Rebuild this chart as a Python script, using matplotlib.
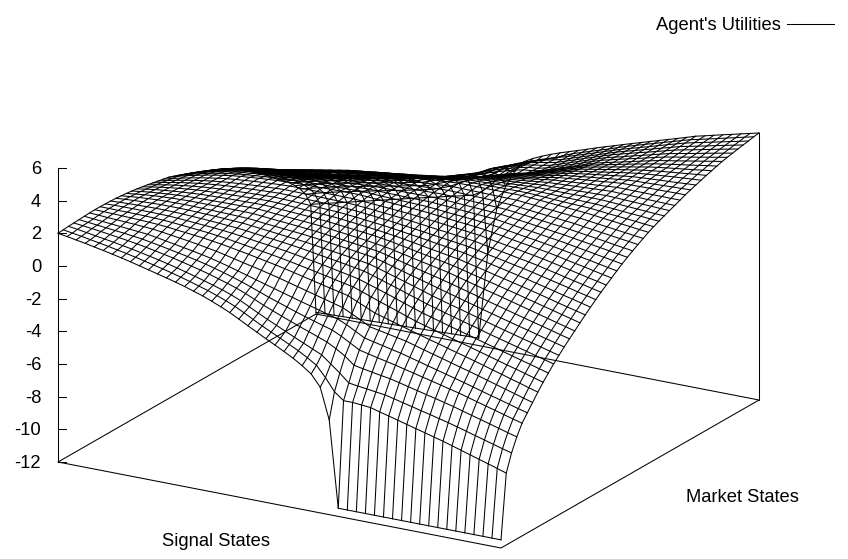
import numpy as np
import matplotlib
matplotlib.use('Agg')
import matplotlib.pyplot as plt

plt.rcParams['font.family'] = ['Liberation Sans', 'DejaVu Sans']

Z_TICKS = [-12, -10, -8, -6, -4, -2, 0, 2, 4, 6]
LEGEND_LABEL = "Agent's Utilities"
X_LABEL = 'Signal States'
Y_LABEL = 'Market States'

# utility * 100. one row per market state, one column per signal state
UTILITY_X100 = [
[200,191,181,171,160,149,137,125,112,98,84,70,56,41,25,7,-11,-33,-56,-81,-110,-140,-169,-198,-226,-255,-285,-320,-360,-430,-620,-1150,-1150,-1150,-1150,-1150,-1150,-1150,-1150,-1150,-1150,-1150,-1150,-1150,-1150,-1150,-1150,-1150,-1150,-1150],
[203,194,185,175,165,155,144,133,121,108,95,82,68,53,37,20,3,-17,-38,-62,-90,-120,-149,-176,-203,-230,-258,-290,-325,-390,-466,-510,-510,-515,-520,-536,-550,-565,-580,-595,-610,-625,-640,-657,-674,-691,-708,-725,-742,-760],
[206,198,189,180,171,162,152,142,131,119,107,94,80,65,50,34,17,0,-20,-44,-72,-100,-127,-153,-179,-205,-230,-255,-280,-325,-370,-420,-428,-435,-443,-450,-463,-477,-490,-504,-517,-531,-545,-560,-576,-592,-608,-624,-640,-655],
[208,202,195,188,180,172,164,155,145,134,123,111,98,84,70,55,38,21,2,-20,-45,-70,-93,-115,-137,-158,-178,-199,-220,-250,-285,-330,-341,-351,-361,-370,-383,-397,-410,-424,-437,-451,-465,-481,-497,-512,-528,-544,-560,-575],
[210,204,198,192,186,180,173,166,156,146,135,124,113,101,88,73,57,40,22,2,-19,-40,-59,-78,-97,-115,-132,-149,-165,-192,-223,-255,-268,-281,-293,-305,-319,-332,-346,-359,-373,-387,-400,-416,-432,-448,-463,-479,-495,-510],
[212,207,202,197,192,187,182,177,168,158,148,138,128,117,105,91,76,60,44,27,11,-5,-21,-37,-53,-68,-84,-100,-115,-140,-170,-200,-213,-225,-238,-250,-265,-280,-295,-310,-325,-340,-355,-371,-387,-403,-418,-434,-450,-465],
[214,211,207,204,201,198,194,190,183,175,167,159,150,140,130,118,105,92,80,67,54,40,25,10,-5,-20,-35,-50,-65,-92,-120,-150,-161,-172,-184,-195,-211,-227,-243,-258,-274,-290,-305,-321,-338,-354,-371,-387,-404,-420],
[215,214,212,210,208,206,203,200,195,189,183,177,171,163,155,145,135,125,114,103,92,80,67,54,41,28,15,3,-10,-35,-60,-85,-101,-118,-134,-150,-166,-182,-197,-213,-229,-244,-260,-276,-293,-309,-326,-342,-359,-375],
[215,215,214,214,213,212,210,208,204,199,194,189,184,177,170,161,152,143,134,125,115,105,94,83,71,60,48,36,25,5,-15,-35,-54,-73,-93,-112,-128,-144,-160,-175,-191,-206,-222,-238,-254,-270,-285,-301,-317,-333],
[214,216,217,217,217,217,216,215,212,208,204,200,196,191,185,178,170,162,155,147,139,130,120,110,100,89,78,67,55,37,19,1,-18,-38,-57,-76,-92,-108,-124,-140,-155,-171,-187,-202,-218,-233,-249,-264,-280,-295],
[213,216,218,220,221,222,222,221,219,216,213,210,206,202,198,192,185,178,172,165,158,150,141,132,123,114,105,95,85,68,50,32,14,-5,-23,-42,-58,-74,-90,-106,-121,-137,-153,-168,-183,-198,-213,-228,-243,-258],
[211,216,219,222,224,226,226,226,225,223,221,219,216,213,210,204,198,192,186,180,174,168,160,152,144,136,128,119,110,94,77,60,43,26,8,-10,-26,-42,-57,-73,-89,-104,-120,-135,-150,-165,-179,-194,-209,-224],
[208,214,219,223,226,228,229,230,229,228,227,225,224,222,220,215,209,204,199,194,189,183,176,169,161,154,146,138,130,115,99,83,67,52,36,20,4,-11,-27,-42,-58,-73,-88,-103,-118,-132,-147,-162,-176,-191],
[204,211,217,222,226,229,231,233,233,233,233,233,232,232,231,226,221,216,212,207,202,197,190,183,176,169,162,155,147,133,119,105,91,77,64,50,35,20,5,-11,-26,-41,-56,-71,-86,-101,-115,-130,-145,-160],
[200,208,215,220,225,229,232,235,236,237,238,239,239,240,240,236,231,227,223,219,215,210,203,196,190,183,176,168,160,149,137,125,113,102,90,78,63,48,33,18,4,-10,-25,-40,-55,-70,-85,-100,-115,-130],
[195,204,212,218,224,229,233,237,239,241,243,244,245,246,247,244,240,237,233,230,226,222,216,210,204,198,192,184,175,165,154,143,132,122,111,100,86,72,58,45,31,17,3,-12,-26,-41,-55,-70,-84,-99],
[189,199,208,216,223,229,234,238,241,244,246,248,250,252,253,251,248,245,242,239,236,233,228,222,216,210,203,196,188,179,170,160,150,141,131,122,109,96,83,69,56,43,30,16,2,-12,-27,-41,-55,-69],
[183,194,204,213,221,228,234,239,243,246,249,252,254,256,258,256,254,252,250,248,245,243,238,233,227,221,215,208,200,192,184,176,167,159,150,142,130,118,105,93,81,68,56,42,29,15,1,-12,-26,-40],
[176,189,200,210,219,227,234,240,245,249,252,255,258,261,263,262,260,259,257,256,254,252,248,243,238,232,226,219,212,205,198,190,183,175,168,160,149,137,126,115,103,92,80,67,54,41,28,14,1,-12],
[169,183,195,206,216,225,233,240,245,250,254,258,261,264,267,266,265,264,263,262,261,260,256,252,247,242,237,231,225,218,211,204,198,191,184,177,166,156,145,135,124,114,103,90,78,65,52,40,27,15],
[162,177,190,202,213,223,232,240,246,251,256,260,264,267,270,270,270,270,269,269,268,268,264,260,256,252,248,243,238,232,226,219,213,207,200,194,184,174,164,155,145,135,125,113,101,89,76,64,52,40],
[155,172,186,199,211,222,231,240,246,251,256,260,264,267,270,271,272,273,274,275,275,275,272,268,265,261,258,254,250,245,239,233,227,222,216,210,201,192,182,173,164,154,145,134,122,111,100,88,76,65],
[143,161,177,191,204,215,224,232,238,243,248,252,256,260,263,265,267,268,269,271,272,273,271,268,266,264,262,260,258,253,248,243,239,234,229,224,216,207,198,189,181,172,163,153,143,132,122,111,100,90],
[131,150,167,182,195,206,215,222,228,234,239,243,247,251,255,258,260,262,264,267,269,271,270,269,268,267,266,266,265,261,257,253,249,245,241,237,229,221,213,205,197,189,181,172,162,153,143,133,124,114],
[118,138,155,170,183,193,202,210,216,222,227,232,237,242,246,250,253,256,259,263,266,269,270,270,271,271,272,272,272,269,266,262,259,256,252,249,242,235,228,220,213,205,198,189,180,172,163,154,145,136],
[105,125,143,158,171,180,189,197,203,209,215,220,225,231,236,240,244,248,252,256,261,266,268,270,272,273,275,277,278,276,273,271,268,265,263,260,254,247,241,234,227,221,214,206,198,190,182,173,165,157],
[90,111,129,145,157,166,174,182,189,195,201,207,213,219,225,230,235,240,245,250,257,264,267,270,273,275,278,281,283,282,280,278,277,275,272,270,264,258,252,247,241,236,230,222,215,207,200,192,185,177],
[75,96,114,129,140,149,157,164,172,179,186,193,200,208,215,221,227,233,239,245,254,262,266,270,273,277,280,284,287,286,285,284,283,282,281,280,275,270,265,260,255,250,245,238,231,224,217,210,203,196],
[60,80,98,112,123,131,138,145,154,162,170,178,187,196,205,213,221,229,236,244,252,260,265,270,275,279,283,287,290,290,290,290,290,290,290,290,286,282,278,273,269,264,260,254,247,241,234,228,221,215],
[45,64,81,95,105,113,121,128,138,147,156,165,174,183,192,200,208,216,223,231,238,245,251,257,262,268,273,278,283,284,285,286,287,287,288,288,285,282,279,276,273,271,268,263,257,252,247,242,236,231],
[30,48,64,77,87,95,103,110,120,130,140,149,159,168,178,186,193,200,207,214,221,228,235,241,248,254,260,267,273,275,277,279,281,283,285,286,284,283,281,280,279,277,276,272,268,263,259,255,250,246],
[14,31,46,58,68,75,83,90,101,112,123,133,143,153,163,170,177,184,191,197,204,210,218,225,233,240,248,255,262,265,268,271,274,277,280,283,283,283,283,283,284,284,284,281,277,274,270,267,263,260],
[-4,12,26,37,45,52,59,65,77,89,100,111,121,132,142,149,156,163,170,177,184,190,199,207,215,224,232,240,248,253,257,262,266,271,275,280,281,283,284,286,288,289,291,289,286,284,281,279,276,274],
[-22,-8,5,15,22,28,34,40,52,63,74,84,95,105,115,122,129,136,144,151,158,165,175,184,194,204,214,223,233,239,245,252,258,264,271,277,280,283,286,289,292,295,298,296,295,293,291,290,288,287],
[-41,-29,-17,-8,-1,4,10,15,26,37,48,59,69,80,90,97,104,111,119,126,133,140,151,162,173,184,195,206,217,225,233,242,250,258,266,274,278,283,287,291,295,300,304,304,303,303,302,302,301,301],
[-60,-50,-40,-32,-26,-21,-15,-10,0,10,20,30,40,50,60,68,76,84,92,100,108,115,127,140,152,164,176,188,200,210,220,230,240,250,260,270,276,282,288,293,299,305,310,311,312,313,313,314,315,315],
[-85,-75,-65,-57,-50,-44,-39,-33,-23,-13,-3,8,18,29,40,48,56,64,72,80,88,95,108,121,134,147,160,172,185,196,208,219,231,242,254,265,272,279,286,292,299,305,312,315,317,319,321,323,325,327],
[-110,-100,-90,-82,-75,-69,-63,-57,-46,-35,-24,-13,-2,9,20,28,36,44,52,60,68,75,89,102,116,129,143,156,170,183,196,208,221,234,247,260,268,276,284,291,299,307,314,318,322,325,328,331,335,338],
[-135,-125,-115,-107,-100,-93,-86,-80,-69,-57,-46,-34,-23,-11,0,8,16,24,32,40,48,55,69,83,98,112,127,141,155,169,183,197,212,226,240,254,263,272,281,290,299,308,316,322,327,332,337,341,345,349],
[-162,-151,-141,-133,-125,-117,-110,-103,-92,-80,-69,-58,-47,-36,-25,-16,-7,2,10,19,27,35,50,65,80,95,110,125,140,155,170,186,201,217,232,248,258,268,278,288,298,307,317,324,331,337,343,349,355,360],
[-190,-178,-167,-158,-150,-141,-133,-125,-114,-103,-92,-81,-70,-59,-48,-38,-28,-18,-9,0,8,15,35,50,66,82,98,114,125,142,158,175,192,209,225,242,253,264,275,286,297,307,318,326,334,341,348,355,363,370],
[-220,-207,-195,-184,-174,-163,-153,-143,-132,-122,-112,-101,-91,-80,-70,-59,-49,-39,-29,-19,-9,0,18,36,54,70,86,100,112,130,148,166,183,201,218,236,248,260,272,284,296,307,319,328,337,346,354,363,372,380],
[-250,-235,-220,-207,-195,-183,-171,-160,-150,-140,-130,-120,-110,-100,-90,-78,-67,-55,-42,-28,-16,-2,22,40,58,74,90,102,108,119,138,156,175,193,212,230,243,256,269,282,295,308,320,330,340,350,360,370,380,390],
[-275,-260,-245,-232,-220,-208,-196,-185,-175,-165,-154,-144,-133,-123,-112,-98,-84,-68,-52,-36,-22,-8,20,38,56,72,87,99,104,117,135,154,172,191,210,228,242,256,269,283,296,310,323,334,344,355,365,376,386,397],
[-305,-290,-275,-261,-249,-237,-225,-213,-202,-192,-182,-171,-161,-150,-140,-122,-104,-86,-68,-50,-33,-14,15,33,52,68,84,95,103,115,134,152,171,189,208,226,240,254,269,283,297,312,326,337,348,359,371,382,393,404],
[-340,-325,-310,-296,-284,-272,-260,-248,-237,-226,-215,-204,-193,-181,-170,-150,-130,-108,-88,-70,-52,-30,5,25,45,63,80,92,102,114,133,151,170,188,207,225,240,255,270,284,299,314,329,341,352,364,376,388,399,411],
[-380,-365,-350,-336,-324,-312,-300,-288,-276,-265,-254,-242,-231,-219,-208,-188,-165,-140,-115,-95,-75,-50,-10,12,35,55,72,88,100,113,132,150,168,186,205,223,239,254,270,285,301,316,332,344,356,368,381,393,405,417],
[-430,-414,-399,-385,-372,-360,-347,-335,-323,-311,-299,-287,-275,-262,-250,-231,-208,-180,-150,-125,-102,-75,-35,-5,20,42,62,80,97,113,131,149,167,186,204,222,238,254,270,287,303,319,335,348,360,373,385,398,410,423],
[-510,-496,-482,-468,-454,-440,-426,-412,-398,-384,-370,-356,-342,-328,-315,-301,-288,-274,-260,-225,-170,-120,-70,-30,0,25,45,65,90,112,130,148,166,184,203,221,238,255,271,288,304,321,337,350,363,376,390,403,417,430],
[-1190,-1188,-1186,-1184,-1182,-1180,-1178,-1176,-1174,-1172,-1170,-1168,-1166,-1164,-1162,-1160,-1158,-1156,-1155,-620,-340,-190,-90,-20,10,35,57,77,95,113,131,150,168,185,203,220,237,254,271,288,305,322,340,353,367,381,394,408,421,435],
]

# screen position of the gnuplot style box, in pixels
LEFT = np.array([58.0, 462.0])
FRONT = np.array([501.0, 548.0])
RIGHT = np.array([759.0, 400.0])
Z_MIN = -12
Z_PX = 294.0 / 18.0
FONT_SIZE = 13.2


def project(u, v, z):
    u = np.asarray(u, dtype=float)
    v = np.asarray(v, dtype=float)
    z = np.asarray(z, dtype=float)
    back = RIGHT - (FRONT - LEFT)
    px = LEFT[0] + u * (FRONT[0] - LEFT[0]) + v * (back[0] - LEFT[0])
    py = LEFT[1] + u * (FRONT[1] - LEFT[1]) + v * (back[1] - LEFT[1]) - (z - Z_MIN) * Z_PX
    return px, py


z = np.array(UTILITY_X100) / 100.0
n_v, n_u = z.shape
u = np.linspace(0, 1, n_u)
v = np.linspace(0, 1, n_v)
uu, vv = np.meshgrid(u, v)
sx, sy = project(uu, vv, z)

fig = plt.figure(figsize=(8.48, 5.59), dpi=100)
ax = fig.add_axes([0, 0, 1, 1])
ax.set_xlim(0, 848)
ax.set_ylim(559, 0)
ax.axis('off')

lw = 0.75
for j in range(n_v):
    ax.plot(sx[j, :], sy[j, :], color='black', lw=lw, solid_joinstyle='miter')
for i in range(n_u):
    ax.plot(sx[:, i], sy[:, i], color='black', lw=lw, solid_joinstyle='miter')

# base of the box
corners = [(0, 1), (0, 0), (1, 0), (1, 1), (0, 1)]
bx, by = project([c[0] for c in corners], [c[1] for c in corners], [Z_MIN] * 5)
ax.plot(bx, by, color='black', lw=lw)

# z axis at the left corner and the upright at the right corner
ax_x, ax_y = project([0, 0], [0, 0], [Z_TICKS[0], Z_TICKS[-1]])
ax.plot(ax_x, ax_y, color='black', lw=lw)
rx, ry = project([1, 1], [1, 1], [Z_MIN, z[-1, -1]])
ax.plot(rx, ry, color='black', lw=lw)

for t in Z_TICKS:
    tx, ty = project(0, 0, t)
    ax.plot([tx, tx + 8], [ty, ty], color='black', lw=lw)
    ax.text(tx - 17, ty + 1.5, str(t), ha='right', va='center', fontsize=FONT_SIZE)

ax.text(781, 25.5, LEGEND_LABEL, ha='right', va='center', fontsize=FONT_SIZE)
ax.plot([787, 834], [24, 24], color='black', lw=lw)
ax.text(216, 542, X_LABEL, ha='center', va='center', fontsize=FONT_SIZE)
ax.text(742, 497.5, Y_LABEL, ha='center', va='center', fontsize=FONT_SIZE)

fig.savefig('out.png', dpi=100)
